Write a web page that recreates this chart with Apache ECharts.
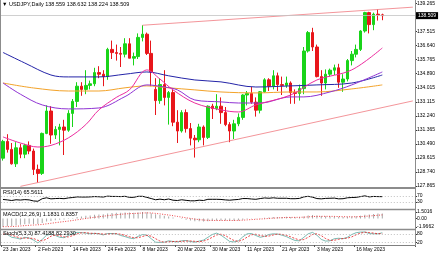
<!DOCTYPE html>
<html><head><meta charset="utf-8">
<script src="https://cdn.jsdelivr.net/npm/echarts@6/dist/echarts.min.js"></script>
<style>html,body{margin:0;padding:0;background:#fff}#c{width:440px;height:254px}</style>
</head><body><div id="c"></div>
<script>
const dates = ["23 Jan 2023","24 Jan 2023","25 Jan 2023","26 Jan 2023","27 Jan 2023","30 Jan 2023","31 Jan 2023",
"1 Feb 2023","2 Feb 2023","3 Feb 2023","6 Feb 2023","7 Feb 2023","8 Feb 2023","9 Feb 2023","10 Feb 2023","13 Feb 2023","14 Feb 2023","15 Feb 2023","16 Feb 2023","17 Feb 2023","20 Feb 2023","21 Feb 2023","22 Feb 2023","23 Feb 2023","24 Feb 2023","27 Feb 2023","28 Feb 2023",
"1 Mar 2023","2 Mar 2023","3 Mar 2023","6 Mar 2023","7 Mar 2023","8 Mar 2023","9 Mar 2023","10 Mar 2023","13 Mar 2023","14 Mar 2023","15 Mar 2023","16 Mar 2023","17 Mar 2023","20 Mar 2023","21 Mar 2023","22 Mar 2023","23 Mar 2023","24 Mar 2023","27 Mar 2023","28 Mar 2023","29 Mar 2023","30 Mar 2023","31 Mar 2023",
"3 Apr 2023","4 Apr 2023","5 Apr 2023","6 Apr 2023","7 Apr 2023","10 Apr 2023","11 Apr 2023","12 Apr 2023","13 Apr 2023","14 Apr 2023","17 Apr 2023","18 Apr 2023","19 Apr 2023","20 Apr 2023","21 Apr 2023","24 Apr 2023","25 Apr 2023","26 Apr 2023","27 Apr 2023","28 Apr 2023",
"1 May 2023","2 May 2023","3 May 2023","4 May 2023","5 May 2023","8 May 2023","9 May 2023","10 May 2023","11 May 2023","12 May 2023","15 May 2023","16 May 2023","17 May 2023","18 May 2023","19 May 2023","22 May 2023","23 May 2023","24 May 2023"];
const labelDates = ["23 Jan 2023","2 Feb 2023","14 Feb 2023","24 Feb 2023","8 Mar 2023","20 Mar 2023","30 Mar 2023","11 Apr 2023","21 Apr 2023","3 May 2023","16 May 2023"];

const opens = [129.60,130.65,130.15,129.25,130.25,129.85,130.40,130.05,128.90,128.65,
131.15,132.55,131.05,131.40,131.55,131.35,132.40,133.15,134.10,133.90,
134.15,134.25,134.95,134.85,134.70,136.40,136.20,136.15,136.10,136.75,
135.85,135.95,137.15,137.35,136.15,133.90,133.20,134.20,133.40,133.70,
131.85,131.30,132.45,131.45,130.85,130.75,131.55,130.90,132.85,132.70,
132.85,132.45,131.70,131.30,131.75,132.15,133.55,133.65,133.10,132.60,
133.75,134.50,134.10,134.75,134.20,134.15,134.30,133.70,133.65,133.95,
136.30,137.45,136.55,134.70,134.30,134.85,135.10,135.25,134.35,134.55,
135.70,136.10,136.40,137.55,138.70,137.95,138.60,138.559];
const highs = [130.75,131.10,130.55,130.60,130.50,130.50,130.65,130.20,129.20,131.20,
132.90,132.85,131.60,131.75,132.00,132.60,133.30,134.35,134.35,135.10,
134.45,135.25,135.35,135.10,136.50,136.95,136.70,136.55,137.10,137.10,
136.20,137.40,137.91,137.45,136.95,134.60,134.60,135.10,133.80,133.90,
132.60,132.60,132.65,131.80,131.05,131.75,131.65,132.90,133.00,133.60,
133.40,132.80,131.85,132.00,132.40,133.60,133.80,134.05,133.40,133.80,
134.60,134.60,135.10,134.95,134.70,134.70,134.40,133.90,134.20,136.55,
137.55,137.75,136.70,135.10,135.15,135.20,135.45,135.50,134.85,135.80,
136.30,136.70,137.60,138.75,138.75,138.70,138.90,138.632];
const lows = [129.45,129.95,129.20,129.05,129.60,129.60,129.85,128.55,128.08,128.55,
131.10,130.50,130.80,130.40,129.80,131.25,131.55,132.80,133.50,133.60,
133.90,134.10,134.60,134.10,134.50,135.80,135.70,135.30,135.90,135.85,
135.40,135.80,136.90,136.05,134.10,132.30,133.00,132.90,131.70,131.60,
130.55,131.20,131.20,130.40,129.64,130.60,130.40,130.80,132.05,132.60,
131.75,131.60,130.60,130.80,131.60,132.00,132.90,133.00,132.20,132.40,
133.70,133.80,133.90,133.80,133.55,134.00,133.00,133.00,133.20,133.60,
136.20,136.30,134.65,133.50,133.90,134.70,134.80,134.00,133.75,134.40,
135.40,135.90,136.30,137.45,137.40,137.60,138.20,138.224];
const closes = [130.65,130.15,129.25,130.25,129.85,130.40,130.05,128.90,128.65,131.15,
132.55,131.05,131.40,131.55,131.35,132.40,133.15,134.10,133.90,134.15,
134.25,134.95,134.85,134.70,136.40,136.20,136.15,136.10,136.75,135.85,
135.95,137.15,137.35,136.15,135.00,133.20,134.20,133.40,133.70,131.85,
131.30,132.45,131.45,130.85,130.75,131.55,130.90,132.85,132.70,132.85,
132.45,131.70,131.30,131.75,132.15,133.55,133.65,133.10,132.60,133.75,
134.50,134.10,134.75,134.20,134.15,134.30,133.70,133.65,133.95,136.30,
137.45,136.55,134.70,134.30,134.85,135.10,135.25,134.35,134.55,135.70,
136.10,136.40,137.55,138.70,137.95,138.60,138.56,138.509];
const bidPrice = 138.509;

// moving averages: [bar index, price]
const maBlue = [[0,136.21],[5,135.55],[11,134.80],[15,134.68],[22,134.68],[28,134.85],[33,134.99],[38,134.75],[44,134.49],[50,134.37],[58,134.05],[66,134.12],[72,134.18],[80,134.30],[87,134.80]];
const maOrange = [[0,134.30],[7,133.99],[15,133.80],[22,133.80],[28,134.00],[33,134.12],[38,134.00],[44,133.87],[50,133.74],[58,133.68],[66,133.74],[72,133.74],[80,133.93],[87,134.18]];
const maPurple = [[0,134.30],[4,133.60],[9,132.93],[15,132.68],[22,132.74],[28,133.45],[33,134.18],[37,134.05],[40,133.87],[44,133.24],[50,133.12],[54,133.05],[59,133.05],[66,133.43],[69,133.43],[75,133.74],[80,134.18],[87,134.99]];
const maMagenta = [[0,130.93],[4,130.55],[8,130.30],[11,130.40],[15,130.87],[19,131.70],[22,132.62],[26,133.40],[29,133.87],[33,135.12],[36,134.55],[39,133.87],[44,133.05],[50,132.62],[54,132.49],[58,132.93],[66,133.55],[72,134.49],[80,135.12],[87,136.49]];
const resistLine = [[32,137.91],[94,139.04]];
const supportLine = [[4,127.84],[94,133.18]];

const rsi = [47,44,40,45,43,46,44,37,35,52,
58,51,53,54,52,57,60,64,63,63,
64,66,65,63,69,67,67,66,68,61,
61,68,68,61,53,45,49,45,50,42,
40,45,41,38,38,42,40,48,48,48,
47,44,42,45,47,53,53,50,48,53,
57,55,58,55,55,55,52,52,54,64,
68,62,53,51,54,55,56,51,52,58,
60,61,66,71,64,67,66,65.5611];
const rsiLevels = [70,30];
const rsiTicks = [100,70,30,0];

const macd = [-1.97,-1.80,-1.72,-1.55,-1.45,-1.32,-1.24,-1.25,-1.28,-1.03,
-0.72,-0.58,-0.43,-0.31,-0.25,-0.10,0.10,0.33,0.48,0.61,
0.72,0.86,0.95,0.99,1.16,1.25,1.31,1.34,1.41,1.36,
1.30,1.41,1.5016,1.44,1.22,0.96,0.82,0.62,0.49,0.24,
-0.02,-0.14,-0.30,-0.49,-0.62,-0.66,-0.72,-0.61,-0.54,-0.46,
-0.44,-0.48,-0.54,-0.52,-0.45,-0.28,-0.14,-0.07,-0.05,0.04,
0.17,0.24,0.33,0.36,0.37,0.38,0.34,0.30,0.29,0.47,
0.69,0.78,0.70,0.59,0.53,0.51,0.49,0.40,0.35,0.38,
0.44,0.51,0.66,0.87,0.95,1.05,1.13,1.1831];
const macdSignal = [-1.93,-1.90,-1.86,-1.80,-1.73,-1.65,-1.57,-1.51,-1.46,-1.37,
-1.24,-1.11,-0.97,-0.84,-0.72,-0.60,-0.46,-0.30,-0.15,0.00,
0.14,0.28,0.41,0.53,0.65,0.77,0.88,0.97,1.06,1.12,
1.16,1.21,1.27,1.30,1.28,1.18,1.06,0.93,0.80,0.65,
0.48,0.32,0.17,0.01,-0.14,-0.26,-0.36,-0.42,-0.45,-0.45,
-0.45,-0.45,-0.46,-0.46,-0.44,-0.39,-0.32,-0.25,-0.19,-0.13,
-0.06,0.01,0.08,0.14,0.19,0.23,0.25,0.26,0.27,0.31,
0.38,0.45,0.49,0.50,0.50,0.49,0.48,0.45,0.42,0.40,
0.39,0.40,0.43,0.50,0.58,0.66,0.75,0.8357];
const macdTicks = [1.5016,0,-1.9662];

const stochK = [80,75,55,50,42,55,50,35,15,40,
70,78,68,55,52,68,82,90,88,85,
80,83,80,72,82,82,80,68,60,50,
45,62,75,70,45,20,18,20,30,25,
22,30,32,25,20,28,35,55,75,85,
70,48,25,22,30,58,80,82,68,55,
62,75,80,78,70,60,45,32,30,55,
80,90,70,40,28,30,45,48,45,55,
75,88,92,93,82,80,79.5,87.4188];
const stochD = [78,78,70,60,49,49,49,47,33,30,
42,63,72,67,58,58,67,80,87,88,
84,83,81,78,78,79,81,77,69,59,
52,52,61,69,63,45,28,19,23,25,
26,26,28,29,26,24,28,39,55,72,
77,68,48,32,26,37,56,73,77,68,
62,64,72,78,76,69,58,46,36,39,
55,75,80,67,46,33,34,41,46,49,
58,73,85,91,89,85,80.5,82.293];
const stochLevels = [80,20];
const stochTicks = [100,80,20,0];
const priceTicks = [127.865,128.740,129.615,130.490,131.365,132.240,133.115,134.015,134.890,135.765,136.640,137.515,139.265];

const FONT = 'Liberation Sans';
const PAD = 7;
const cats = dates.concat(Array(PAD).fill(''));
const candles = dates.map((d,i)=>[opens[i],closes[i],lows[i],highs[i]]);
const showIdx = new Set(labelDates.map(d=>dates.indexOf(d)));

const L = 0.8, W = 414.2;
const grids = [
  {left:L, width:W, top:3, height:184},
  {left:L, width:W, top:191.5, height:15},
  {left:L, width:W, top:212, height:15},
  {left:L, width:W, top:231, height:14}
];
const xAxes = grids.map((g,i)=>({
  type:'category', gridIndex:i, data:cats, boundaryGap:true,
  axisLine:{show:i===3, lineStyle:{color:'#808080',width:1}},
  axisTick:{show:i===3, interval:(idx)=>showIdx.has(idx), length:2, lineStyle:{color:'#555'}},
  axisLabel:{show:i===3, interval:(idx)=>showIdx.has(idx), align:'left', fontSize:5, color:'#000', margin:2, fontFamily:FONT},
  splitLine:{show:false}
}));
function yAx(i,min,max,ticks,fmt){
  return {type:'value', gridIndex:i, position:'right', min:min, max:max,
    axisLine:{show:false}, splitLine:{show:false},
    axisTick:{show:true, customValues:ticks, length:2, lineStyle:{color:'#333'}},
    axisLabel:{customValues:ticks, formatter:fmt, fontSize:5, color:'#000', margin:2, fontFamily:FONT}};
}
const yAxes = [
  yAx(0,127.80,139.30,priceTicks,v=>v.toFixed(3)),
  yAx(1,0,100,rsiTicks,v=>String(v)),
  yAx(2,-1.9662,1.5016,macdTicks,v=>v===0?'0.00':String(v)),
  yAx(3,0,100,stochTicks,v=>String(v))
];
function maSeries(data,color){
  return {type:'line', xAxisIndex:0, yAxisIndex:0, data:data, smooth:0.35, showSymbol:false, symbol:'none',
    lineStyle:{color:color,width:1}, silent:true, z:3};
}
function trendSeries(data){
  return {type:'line', xAxisIndex:0, yAxisIndex:0, data:data, showSymbol:false, symbol:'none',
    lineStyle:{color:'#f07a80',width:0.8}, silent:true, z:3};
}
function levels(vals){
  return {silent:true, symbol:['none','none'], label:{show:false},
    lineStyle:{color:'#b0b0b0',type:[1,2],width:0.8}, data:vals.map(v=>({yAxis:v}))};
}
const sepColor = '#8c8c8c';
function hline(y,w){return {type:'line', shape:{x1:0,y1:y,x2:415.5,y2:y}, style:{stroke:sepColor,lineWidth:w}, silent:true, z:10};}
function txt(x,y,t){return {type:'text', left:x, top:y, style:{text:t, fontSize:5.5, fill:'#000', fontFamily:FONT}, silent:true, z:10};}

const chart = echarts.init(document.getElementById('c'));
chart.setOption({
  animation:false,
  backgroundColor:'#fff',
  grid:grids, xAxis:xAxes, yAxis:yAxes,
  series:[
    {type:'candlestick', xAxisIndex:0, yAxisIndex:0, data:candles, barWidth:3,
     itemStyle:{color:'#19d419', color0:'#e8161b', borderColor:'#19d419', borderColor0:'#e8161b', borderWidth:1},
     markLine:{silent:true, symbol:['none','none'], data:[{yAxis:bidPrice}],
       lineStyle:{color:'#c4c4c4',width:0.8,type:'solid'},
       label:{show:true, position:'end', distance:1, formatter:bidPrice.toFixed(3), color:'#fff', backgroundColor:'#000', fontSize:5, padding:[1,2,1,2], fontFamily:FONT}}},
    maSeries(maOrange,'#f3a32a'),
    maSeries(maBlue,'#2424a8'),
    maSeries(maPurple,'#9034d4'),
    maSeries(maMagenta,'#ec2b9e'),
    trendSeries(resistLine),
    trendSeries(supportLine),
    {type:'line', xAxisIndex:1, yAxisIndex:1, data:rsi, showSymbol:false, symbol:'none', lineStyle:{color:'#000',width:1}, markLine:levels(rsiLevels)},
    {type:'bar', xAxisIndex:2, yAxisIndex:2, data:macd, barWidth:1, itemStyle:{color:'#a8a8a8'}},
    {type:'line', xAxisIndex:2, yAxisIndex:2, data:macdSignal, showSymbol:false, symbol:'none', lineStyle:{color:'#e8161b',width:0.8,type:[1,1.5]}},
    {type:'line', xAxisIndex:3, yAxisIndex:3, data:stochK, showSymbol:false, symbol:'none', lineStyle:{color:'#5aa9a0',width:0.8}, markLine:levels(stochLevels)},
    {type:'line', xAxisIndex:3, yAxisIndex:3, data:stochD, showSymbol:false, symbol:'none', lineStyle:{color:'#e8161b',width:0.8,type:[2,1.5]}}
  ],
  graphic:[
    {type:'line', shape:{x1:415.5,y1:0,x2:415.5,y2:246}, style:{stroke:sepColor,lineWidth:1}, silent:true, z:10},
    {type:'line', shape:{x1:0.5,y1:0,x2:0.5,y2:246}, style:{stroke:sepColor,lineWidth:1}, silent:true, z:10},
    hline(188,2), hline(209.5,1.5), hline(229.5,1.5),
    txt(2,1.5,'\u25BC USDJPY,Daily 138.559 138.632 138.224 138.509'),
    txt(3,189.5,'RSI(14) 65.5611'),
    txt(3,211,'MACD(12,26,9) 1.1831 0.8357'),
    txt(3,230.5,'Stoch(5,3,3) 87.4188 82.2930')
  ]
});
</script></body></html>
